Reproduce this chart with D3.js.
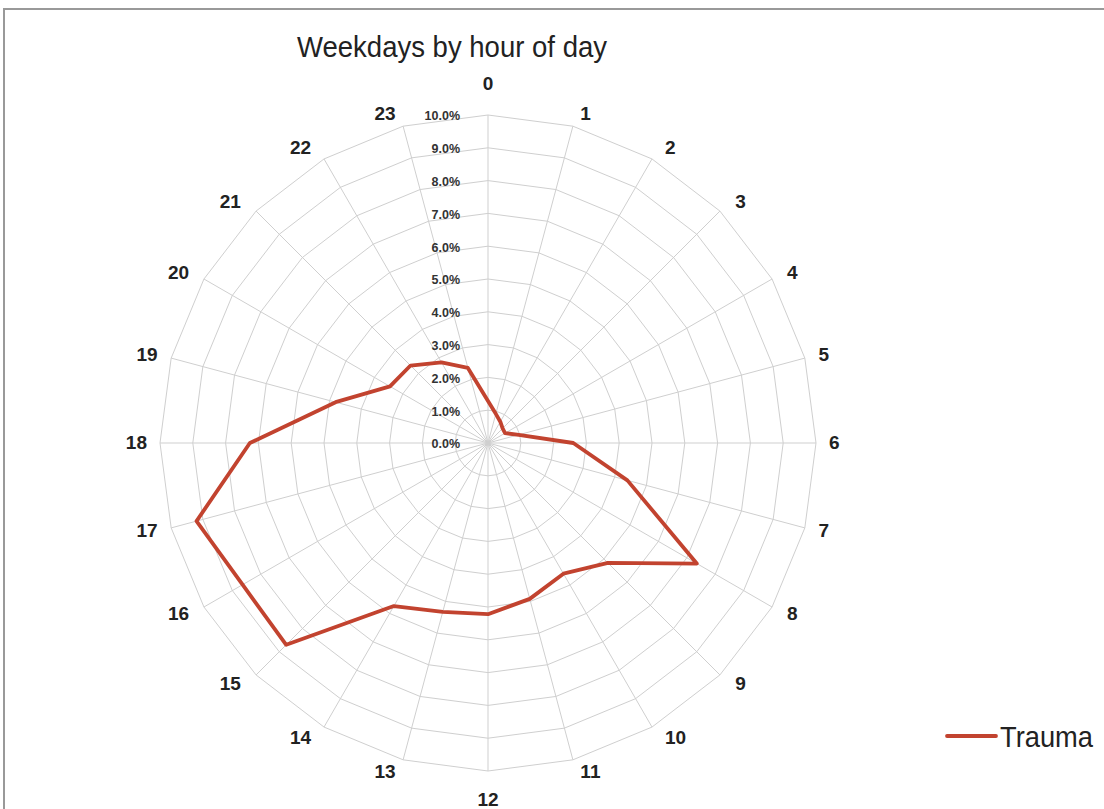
<!DOCTYPE html>
<html>
<head>
<meta charset="UTF-8">
<title>Weekdays by hour of day</title>
<script src="https://cdnjs.cloudflare.com/ajax/libs/d3/7.8.5/d3.min.js"></script>
<style>
  body { margin: 0; background: #fff; }
  svg { display: block; }
  .tick { font: bold 12.5px "Liberation Sans", Arial, sans-serif; fill: #333; }
  .hour { font: bold 19px "Liberation Sans", Arial, sans-serif; fill: #222; }
</style>
</head>
<body>
<script>
// hours around the clock and share of trauma cases per hour (%)
var hours = d3.range(24);
var trauma = [1.28, 0.92, 0.75, 0.63, 0.6, 0.97, 2.6, 4.4, 7.35, 5.17, 4.6, 4.92,
              5.22, 5.33, 5.74, 8.7, 8.64, 9.2, 7.26, 4.81, 3.45, 3.34, 2.84, 2.37];
var tickValues = d3.range(0, 11); // 0% .. 10%
var seriesName = "Trauma";
var title = "Weekdays by hour of day";

var W = 1104, H = 809;
var cx = 488, cy = 443, R = 328;

var svg = d3.select("body").append("svg")
  .attr("width", W)
  .attr("height", H);

// outer frame
svg.append("path")
  .attr("d", "M4," + H + "V9H" + W)
  .attr("fill", "none")
  .attr("stroke", "#999")
  .attr("stroke-width", 2);

var r = d3.scaleLinear().domain([0, 10]).range([0, R]);
var angle = d3.scaleLinear().domain([0, 24]).range([0, 2 * Math.PI]);

var g = svg.append("g").attr("transform", "translate(" + cx + "," + cy + ")");

function pt(h, v) {
  var a = angle(h);
  return [r(v) * Math.sin(a), -r(v) * Math.cos(a)];
}

// ring grid (polygons)
g.selectAll("path.ring")
  .data(tickValues.slice(1))
  .enter().append("path")
  .attr("class", "ring")
  .attr("d", function(v) {
    return d3.line()(hours.map(function(h) { return pt(h, v); })) + "Z";
  })
  .attr("fill", "none")
  .attr("stroke", "#cfcfcf")
  .attr("stroke-width", 1);

// spokes
g.selectAll("line.spoke")
  .data(hours)
  .enter().append("line")
  .attr("class", "spoke")
  .attr("x1", 0).attr("y1", 0)
  .attr("x2", function(h) { return pt(h, 10)[0]; })
  .attr("y2", function(h) { return pt(h, 10)[1]; })
  .attr("stroke", "#cfcfcf")
  .attr("stroke-width", 1);

// value labels along the 0 spoke
g.selectAll("text.tick")
  .data(tickValues)
  .enter().append("text")
  .attr("class", "tick")
  .attr("x", -28)
  .attr("y", function(v) { return -r(v) + 2; })
  .attr("text-anchor", "end")
  .attr("dominant-baseline", "middle")
  .text(function(v) { return d3.format(".1%")(v / 100); });

// hour labels: box pushed outside the outer ring, like the spreadsheet does
g.selectAll("text.hour")
  .data(hours)
  .enter().append("text")
  .attr("class", "hour")
  .attr("text-anchor", "middle")
  .attr("dominant-baseline", "middle")
  .text(function(h) { return h; })
  .each(function(h) {
    var a = angle(h), s = Math.sin(a), c = Math.cos(a);
    var w = this.getComputedTextLength();
    var x, y;
    if (Math.abs(s) < 1e-6) {
      x = 0;
      y = c > 0 ? -359 : 357;
    } else {
      var rx = 341 + 17 * c * c;
      x = rx * s + (s > 0 ? 1 : -1) * w / 2;
      y = -341 * c;
    }
    d3.select(this).attr("x", x).attr("y", y + 1);
  });

// series line
g.append("path")
  .datum(trauma)
  .attr("d", function(d) {
    return d3.line()(d.map(function(v, i) { return pt(hours[i], v); })) + "Z";
  })
  .attr("fill", "none")
  .attr("stroke", "#c2432f")
  .attr("stroke-width", 3.8)
  .attr("stroke-linejoin", "round");

// title
svg.append("text")
  .attr("x", 452)
  .attr("y", 57)
  .attr("text-anchor", "middle")
  .attr("font-family", "'Liberation Sans Narrow', 'Liberation Sans', Arial, sans-serif")
  .attr("font-size", 30)
  .attr("fill", "#222")
  .attr("textLength", 310)
  .attr("lengthAdjust", "spacingAndGlyphs")
  .text(title);

// legend
var lg = svg.append("g").attr("transform", "translate(947,736)");
lg.append("line")
  .attr("x1", 0).attr("x2", 49)
  .attr("stroke", "#c2432f")
  .attr("stroke-width", 3.8)
  .attr("stroke-linecap", "round");
lg.append("text")
  .attr("x", 53)
  .attr("y", 11)
  .attr("font-family", "'Liberation Sans Narrow', 'Liberation Sans', Arial, sans-serif")
  .attr("font-size", 30)
  .attr("fill", "#222")
  .attr("textLength", 93)
  .attr("lengthAdjust", "spacingAndGlyphs")
  .text(seriesName);
</script>
</body>
</html>
